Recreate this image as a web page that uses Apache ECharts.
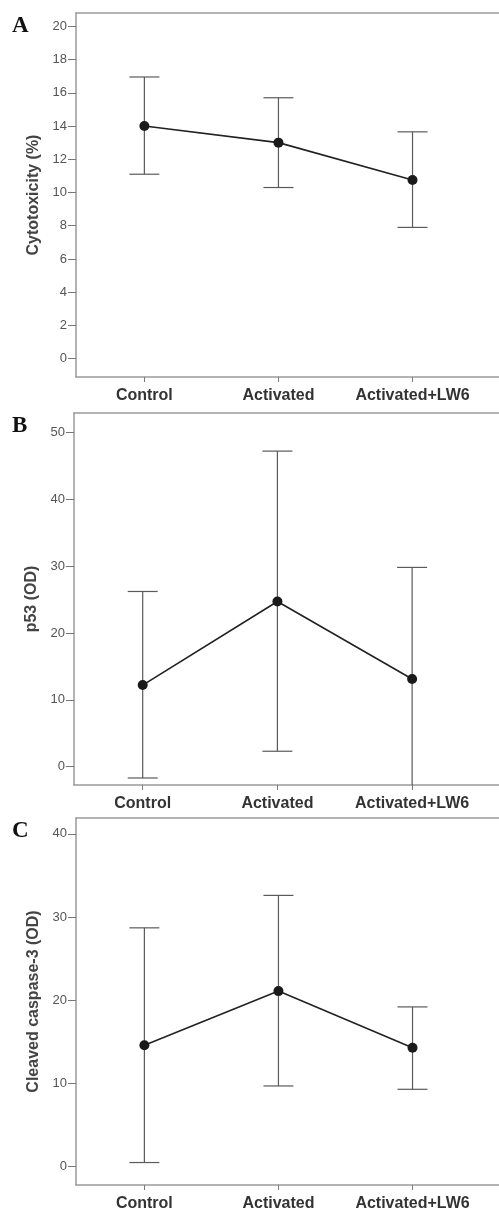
<!DOCTYPE html>
<html>
<head>
<meta charset="utf-8">
<script src="https://cdn.jsdelivr.net/npm/echarts@6/dist/echarts.min.js"></script>
<style>
  html, body { margin: 0; padding: 0; background: #fff; }
  #chart { width: 499px; height: 1212px; }
</style>
</head>
<body>
<div id="chart"></div>
<script>
const categories = ['Control', 'Activated', 'Activated+LW6']

// panel A - cytotoxicity (%)
const cytoMean = [14.0, 13.0, 10.75]
const cytoLow = [11.1, 10.3, 7.9]
const cytoHigh = [16.95, 15.7, 13.65]
const cytoTicks = [0, 2, 4, 6, 8, 10, 12, 14, 16, 18, 20]

// panel B - p53 (OD)
const p53Mean = [12.2, 24.7, 13.1]
const p53Low = [-1.7, 2.3, -3.7]
const p53High = [26.2, 47.2, 29.8]
const p53Ticks = [0, 10, 20, 30, 40, 50]

// panel C - cleaved caspase-3 (OD)
const caspMean = [14.6, 21.1, 14.3]
const caspLow = [0.5, 9.7, 9.3]
const caspHigh = [28.7, 32.6, 19.2]
const caspTicks = [0, 10, 20, 30, 40]

const panels = [
  { letter: 'A', name: 'Cytotoxicity (%)', mean: cytoMean, low: cytoLow, high: cytoHigh, ticks: cytoTicks,
    top: 13, height: 364, left: 76, yMin: -1.1, yMax: 20.8 },
  { letter: 'B', name: 'p53 (OD)', mean: p53Mean, low: p53Low, high: p53High, ticks: p53Ticks,
    top: 413, height: 372, left: 74, yMin: -2.75, yMax: 52.9 },
  { letter: 'C', name: 'Cleaved caspase-3 (OD)', mean: caspMean, low: caspLow, high: caspHigh, ticks: caspTicks,
    top: 818, height: 369, left: 76, yMin: -2.2, yMax: 41.9 }
]

const frameColor = '#9a9a9a'
const catIdx = categories.map((c, i) => i)
const xMin = -0.51
const xMax = 2.645

// whiskers with caps; a whisker running past the axis is cut at the frame
function errorBarItem (params, api) {
  const x = api.value(0)
  const lo = api.value(1)
  const hi = api.value(2)
  const rect = params.coordSys
  const bottom = rect.y + rect.height
  const pLo = api.coord([x, lo])
  const pHi = api.coord([x, hi])
  const cap = 15
  const style = { stroke: '#5a5a5a', lineWidth: 1.2 }
  const children = []
  const yLo = Math.min(pLo[1], bottom)
  children.push({ type: 'line', shape: { x1: pHi[0], y1: pHi[1], x2: pLo[0], y2: yLo }, style })
  children.push({ type: 'line', shape: { x1: pHi[0] - cap, y1: pHi[1], x2: pHi[0] + cap, y2: pHi[1] }, style })
  if (pLo[1] <= bottom) {
    children.push({ type: 'line', shape: { x1: pLo[0] - cap, y1: pLo[1], x2: pLo[0] + cap, y2: pLo[1] }, style })
  }
  return { type: 'group', children }
}

const option = {
  animation: false,
  backgroundColor: '#fff',
  title: panels.map(p => ({
    text: p.letter,
    left: 7,
    top: p.top - 3,
    textStyle: { fontFamily: 'Liberation Serif', fontWeight: 'bold', fontSize: 23, color: '#111' }
  })),
  grid: panels.map(p => ({
    left: p.left,
    right: 0,
    top: p.top,
    height: p.height
  })),
  xAxis: panels.flatMap((p, i) => [
    {
      type: 'value',
      gridIndex: i,
      min: xMin,
      max: xMax,
      splitLine: { show: false },
      axisLine: { show: true, onZero: false, lineStyle: { color: frameColor, width: 1.5 } },
      axisTick: { show: true, customValues: catIdx, length: 5, lineStyle: { color: '#777' } },
      axisLabel: {
        customValues: catIdx,
        formatter: v => categories[v],
        margin: 11,
        fontFamily: 'Liberation Sans',
        fontWeight: 'bold',
        fontSize: 16,
        color: '#333'
      }
    },
    {
      // top edge of the frame, open on the right like the original
      type: 'value',
      gridIndex: i,
      position: 'top',
      min: xMin,
      max: xMax,
      splitLine: { show: false },
      axisLine: { show: true, onZero: false, lineStyle: { color: frameColor, width: 1.5 } },
      axisTick: { show: false },
      axisLabel: { show: false }
    }
  ]),
  yAxis: panels.map((p, i) => ({
    type: 'value',
    gridIndex: i,
    min: p.yMin,
    max: p.yMax,
    name: p.name,
    nameLocation: 'middle',
    nameGap: 32,
    nameTextStyle: { fontFamily: 'Liberation Sans', fontWeight: 'bold', fontSize: 16, color: '#444' },
    splitLine: { show: false },
    axisLine: { show: true, onZero: false, lineStyle: { color: frameColor, width: 1.5 } },
    axisTick: { show: true, customValues: p.ticks, length: 8, lineStyle: { color: '#777' } },
    axisLabel: {
      customValues: p.ticks,
      margin: 9,
      fontFamily: 'Liberation Sans',
      fontSize: 13,
      color: '#555'
    }
  })),
  series: panels.flatMap((p, i) => [
    {
      type: 'custom',
      xAxisIndex: 2 * i,
      yAxisIndex: i,
      renderItem: errorBarItem,
      data: catIdx.map(k => [k, p.low[k], p.high[k]]),
      z: 2
    },
    {
      type: 'line',
      xAxisIndex: 2 * i,
      yAxisIndex: i,
      symbol: 'circle',
      symbolSize: 10,
      itemStyle: { color: '#1a1a1a' },
      lineStyle: { color: '#222', width: 1.6 },
      data: catIdx.map(k => [k, p.mean[k]]),
      z: 3
    }
  ])
}

const chart = echarts.init(document.getElementById('chart'))
chart.setOption(option)
</script>
</body>
</html>
